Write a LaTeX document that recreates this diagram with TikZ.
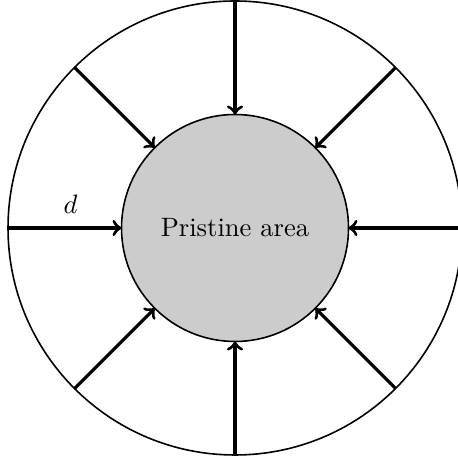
\documentclass[tikz,border=0pt]{standalone}
\usetikzlibrary{arrows}
\begin{document}
\begin{tikzpicture}[
  ring/.style={circle, draw, semithick, minimum size=6cm, inner sep=0pt, outer sep=0pt},
  core/.style={circle, draw, semithick, fill=black!20, minimum size=3cm, inner sep=0pt, outer sep=0pt},
  flow/.style={->, very thick}
]
\useasboundingbox (-3.106,-3.013) rectangle (2.947,3.013);
\node[ring] (O) at (0,0) {};
\node[core] (I) at (0,0) {Pristine area};
\foreach \a in {0,45,...,315}{
  \draw[flow] (O.\a) -- (I.\a);
}
\path (O.180) -- node[pos=0.55, above, yshift=2pt] (d) {$d$} (I.180);
\end{tikzpicture}
\end{document}
